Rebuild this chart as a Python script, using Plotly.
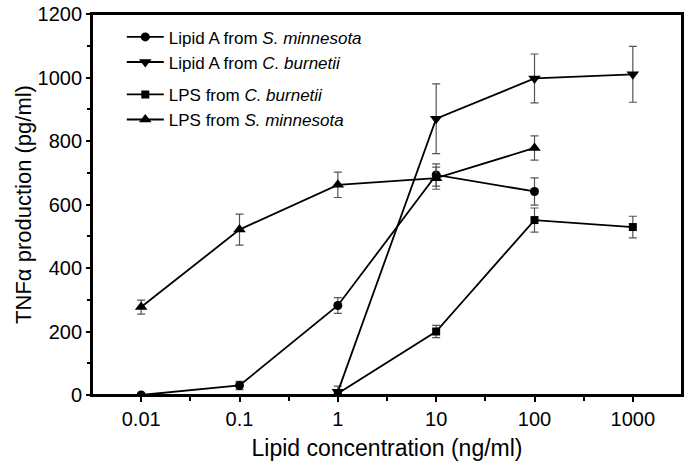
import plotly.graph_objects as go

conc_a = [0.01, 0.1, 1, 10, 100]
conc_b = [1, 10, 100, 1000]

lipidA_sm = [0, 30, 282, 693, 641]
lipidA_sm_err = [5, 13, 25, 35, 43]

lipidA_cb = [10, 870, 997, 1010]
lipidA_cb_err = [18, 110, 77, 88]

lps_cb = [5, 200, 551, 529]
lps_cb_err = [8, 19, 38, 34]

lps_sm = [277, 521, 662, 683, 778]
lps_sm_err = [22, 49, 40, 35, 38]

x_tickvals = [0.01, 0.1, 1, 10, 100, 1000]
x_ticktext = ["0.01", "0.1", "1", "10", "100", "1000"]
x_minor = [0.0316, 0.316, 3.16, 31.6, 316]

FONT = "Liberation Sans, Arial, sans-serif"
err_style = dict(type="data", thickness=1.2, width=4, color="#555555")
line_style = dict(color="black", width=1.8)

fig = go.Figure()
fig.add_trace(go.Scatter(
    x=conc_a, y=lipidA_sm, mode="lines+markers",
    name="Lipid A from <i>S. minnesota</i>",
    line=line_style, marker=dict(symbol="circle", size=9, color="black"),
    error_y=dict(array=lipidA_sm_err, **err_style), legend="legend"))
fig.add_trace(go.Scatter(
    x=conc_b, y=lipidA_cb, mode="lines+markers",
    name="Lipid A from <i>C. burnetii</i>",
    line=line_style, marker=dict(symbol="triangle-down", size=11, color="black"),
    error_y=dict(array=lipidA_cb_err, **err_style), legend="legend"))
fig.add_trace(go.Scatter(
    x=conc_b, y=lps_cb, mode="lines+markers",
    name="LPS from <i>C. burnetii</i>",
    line=line_style, marker=dict(symbol="square", size=8, color="black"),
    error_y=dict(array=lps_cb_err, **err_style), legend="legend2"))
fig.add_trace(go.Scatter(
    x=conc_a, y=lps_sm, mode="lines+markers",
    name="LPS from <i>S. minnesota</i>",
    line=line_style, marker=dict(symbol="triangle-up", size=11, color="black"),
    error_y=dict(array=lps_sm_err, **err_style), legend="legend2"))

legend_common = dict(
    xanchor="left", yanchor="top", bgcolor="rgba(0,0,0,0)",
    font=dict(family=FONT, size=17, color="black"),
    tracegroupgap=0, itemwidth=37,
)
LX = 0.0505

fig.update_layout(
    width=685, height=461,
    margin=dict(l=92, r=3, t=14, b=66, autoexpand=False),
    paper_bgcolor="white", plot_bgcolor="white",
    font=dict(family=FONT, color="black"),
    showlegend=True,
    legend=dict(x=LX, y=0.986, **legend_common),
    legend2=dict(x=LX, y=0.835, **legend_common),
    xaxis=dict(
        type="log", range=[-2.5, 3.5], automargin=False,
        tickvals=x_tickvals, ticktext=x_ticktext,
        ticks="outside", ticklen=5, tickwidth=1.5, tickcolor="black",
        showline=True, linewidth=1.8, linecolor="black", mirror=True,
        showgrid=False, zeroline=False,
        tickfont=dict(family=FONT, size=20, color="black"),
        title=dict(text="Lipid concentration (ng/ml)",
                   font=dict(family=FONT, size=23, color="black"), standoff=15),
        minor=dict(tickvals=x_minor, ticks="outside", ticklen=4,
                   tickwidth=1.5, tickcolor="black", showgrid=False),
    ),
    yaxis=dict(
        range=[0, 1200], tickvals=[0, 200, 400, 600, 800, 1000, 1200],
        automargin=False,
        ticks="outside", ticklen=4, tickwidth=1.5, tickcolor="black",
        showline=True, linewidth=1.8, linecolor="black", mirror=True,
        showgrid=False, zeroline=False,
        tickfont=dict(family=FONT, size=20, color="black"),
        title=dict(text="TNFα production (pg/ml)",
                   font=dict(family=FONT, size=22, color="black"), standoff=0),
        minor=dict(dtick=100, ticks="outside", ticklen=3,
                   tickwidth=1.5, tickcolor="black", showgrid=False),
    ),
    shapes=[dict(type="rect", xref="paper", yref="paper", x0=0, x1=1, y0=0, y1=1,
                 line=dict(color="black", width=2), fillcolor="rgba(0,0,0,0)",
                 layer="above")],
)

fig.write_html("out.html",
               config={"displayModeBar": False},
               post_script="document.body.style.margin='0';")
